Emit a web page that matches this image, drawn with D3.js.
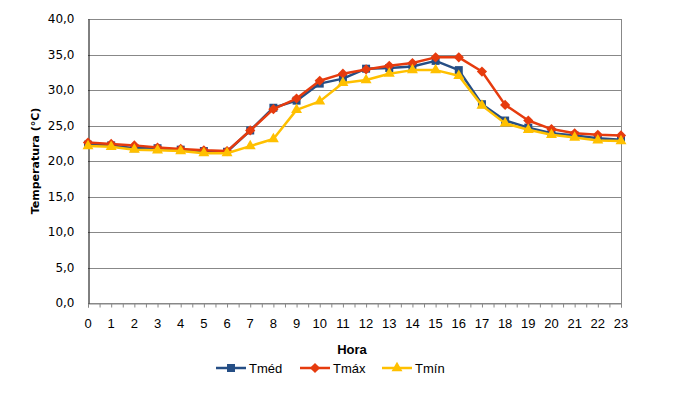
<!DOCTYPE html>
<html>
<head>
<meta charset="utf-8">
<script src="https://cdn.jsdelivr.net/npm/d3@7"></script>
<style>
body{margin:0;background:#fff;}
svg{display:block;}
</style>
</head>
<body>
<svg width="689" height="400"></svg>
<script>
var hours = d3.range(0, 24);
var yTicks = [0, 5, 10, 15, 20, 25, 30, 35, 40];
var seriesNames = ["Tméd", "Tmáx", "Tmín"];
var tmed = [22.3,22.2,21.8,21.8,21.6,21.4,21.3,24.3,27.5,28.5,30.9,31.6,33.0,33.1,33.3,34.1,32.8,28.0,25.7,24.7,23.9,23.6,23.2,23.0];
var tmax = [22.6,22.4,22.2,21.9,21.7,21.5,21.4,24.3,27.3,28.8,31.3,32.3,32.9,33.4,33.8,34.6,34.6,32.6,27.9,25.7,24.5,23.9,23.7,23.6];
var tmin = [22.1,22.0,21.6,21.5,21.4,21.1,21.1,22.1,23.1,27.2,28.4,31.0,31.4,32.3,32.8,32.8,32.0,27.8,25.3,24.4,23.7,23.3,22.9,22.8];

var colors = {"Tméd":"#254E85", "Tmáx":"#E63B0E", "Tmín":"#FFC000"};
var symbols = {"Tméd":d3.symbolSquare, "Tmáx":d3.symbolSquare, "Tmín":d3.symbolTriangle};
var symSize = {"Tméd":64, "Tmáx":52, "Tmín":52};
var symRot = {"Tméd":0, "Tmáx":45, "Tmín":0};
var values = {"Tméd":tmed, "Tmáx":tmax, "Tmín":tmin};

var svg = d3.select("svg");
var pLeft = 88, pRight = 621, pTop = 19, pBottom = 303;

var x = d3.scaleLinear().domain([0, 23]).range([pLeft, pRight]);
var y = d3.scaleLinear().domain([0, 40]).range([pBottom, pTop]);

// grid
svg.append("g").selectAll("line").data(yTicks).enter().append("line")
	.attr("x1", pLeft).attr("x2", pRight)
	.attr("y1", function(d){ return Math.round(y(d))+0.5 }).attr("y2", function(d){ return Math.round(y(d))+0.5 })
	.attr("stroke", "#888").attr("stroke-width", 1);

svg.append("line")
	.attr("x1", pRight+0.5).attr("x2", pRight+0.5).attr("y1", pTop).attr("y2", pBottom+4)
	.attr("stroke", "#888");

// x axis
var xAxis = svg.append("g")
	.attr("transform", "translate(0," + (pBottom+0.5) + ")")
	.call(d3.axisBottom(x).tickValues(d3.range(0, 23.01, 0.5)).tickSize(4).tickFormat(""));
xAxis.select(".domain").attr("stroke", "#888");
xAxis.selectAll(".tick line").attr("stroke", "#888");

svg.append("g").selectAll("text").data(hours).enter().append("text")
	.attr("x", function(d){ return x(d) })
	.attr("y", 328)
	.attr("text-anchor", "middle")
	.attr("font-family", "Liberation Sans, Arial, sans-serif")
	.attr("font-size", 13)
	.attr("fill", "#000")
	.text(function(d){ return d });

// y axis
var yAxis = svg.append("g")
	.attr("transform", "translate(" + (pLeft+0.5) + ",0)")
	.call(d3.axisLeft(y).tickValues(yTicks).tickSize(0).tickPadding(14)
		.tickFormat(function(d){ return d3.format(".1f")(d).replace(".", ",") }));
yAxis.select(".domain").attr("stroke", "#000");
yAxis.selectAll("text")
	.attr("font-family", "DejaVu Sans, Verdana, sans-serif")
	.attr("font-size", 12)
	.attr("fill", "#000");

svg.append("text")
	.attr("transform", "translate(39," + ((pTop+pBottom)/2) + ") rotate(-90)")
	.attr("text-anchor", "middle")
	.attr("font-family", "DejaVu Sans, Verdana, sans-serif")
	.attr("font-size", 11)
	.attr("font-weight", "bold")
	.text("Temperatura (°C)");

svg.append("text")
	.attr("x", 352).attr("y", 354)
	.attr("text-anchor", "middle")
	.attr("font-family", "Liberation Sans, Arial, sans-serif")
	.attr("font-size", 13)
	.attr("font-weight", "bold")
	.text("Hora");

// series
var line = d3.line()
	.x(function(d, i){ return x(hours[i]) })
	.y(function(d){ return y(d) });

seriesNames.forEach(function(name){
	var g = svg.append("g");
	g.append("path")
		.attr("d", line(values[name]))
		.attr("fill", "none")
		.attr("stroke", colors[name])
		.attr("stroke-width", 2.5)
		.attr("stroke-linejoin", "round");
	g.selectAll("path.m").data(values[name]).enter().append("path")
		.attr("class", "m")
		.attr("transform", function(d, i){ return "translate(" + x(hours[i]) + "," + y(d) + ") rotate(" + symRot[name] + ")" })
		.attr("d", d3.symbol().type(symbols[name]).size(symSize[name]))
		.attr("fill", colors[name]);
});

// legend
var legendX = [216, 300, 382];
var legend = svg.append("g").selectAll("g").data(seriesNames).enter().append("g")
	.attr("transform", function(d, i){ return "translate(" + legendX[i] + ",368)" });
legend.append("line")
	.attr("x1", 0).attr("x2", 30)
	.attr("stroke", function(d){ return colors[d] })
	.attr("stroke-width", 2.5);
legend.append("path")
	.attr("transform", function(d){ return "translate(15,0) rotate(" + symRot[d] + ")" })
	.attr("d", function(d){ return d3.symbol().type(symbols[d]).size(symSize[d])() })
	.attr("fill", function(d){ return colors[d] });
legend.append("text")
	.attr("x", 33).attr("y", 5)
	.attr("font-family", "Liberation Sans, Arial, sans-serif")
	.attr("font-size", 13)
	.text(function(d){ return d });
</script>
</body>
</html>
